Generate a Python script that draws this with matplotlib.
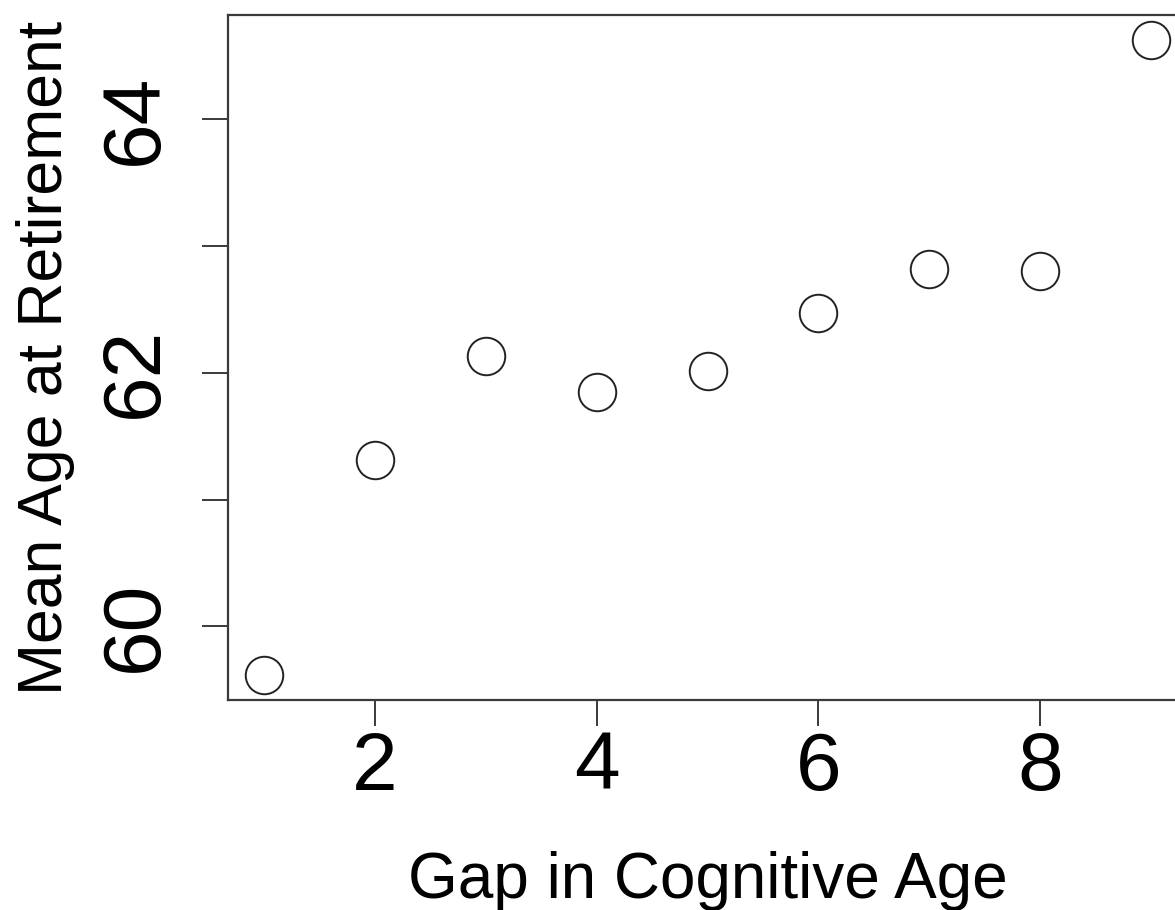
import numpy as np
import matplotlib
matplotlib.use("Agg")
import matplotlib.pyplot as plt

plt.rcParams['font.family'] = ['Liberation Sans', 'DejaVu Sans']

# mean retirement age by gap in cognitive age
gap_years = [1, 2, 3, 4, 5, 6, 7, 8, 9]
mean_retire_age = [59.62, 61.31, 62.13, 61.85, 62.01, 62.47, 62.82, 62.80, 64.62]

x_ticks = [2, 4, 6, 8]
y_ticks = [60, 61, 62, 63, 64]
y_tick_labels = ["60", "", "62", "", "64"]

fig = plt.figure(figsize=(11.75, 9.10), dpi=100)
# plot region runs a little past the right edge of the canvas
ax = fig.add_axes([228 / 1175, 210 / 910, 959 / 1175, 685 / 910])

ax.plot(gap_years, mean_retire_age, linestyle="none", marker="o",
        markersize=27, markerfacecolor="white", markeredgecolor="#222222",
        markeredgewidth=1.4, clip_on=False)

# R-style 4% padding around the data range
def padded(vals, frac=0.04):
    lo, hi = min(vals), max(vals)
    d = (hi - lo) * frac
    return lo - d, hi + d

ax.set_xlim(*padded(gap_years))
ax.set_ylim(*padded(mean_retire_age))

ax.set_xticks(x_ticks)
ax.set_xticklabels([str(t) for t in x_ticks])
ax.set_yticks(y_ticks)
ax.set_yticklabels(y_tick_labels, rotation=90, va="center")

for s in ax.spines.values():
    s.set_color("#3a3a3a")
    s.set_linewidth(1.6)

ax.tick_params(axis="x", length=19, width=1.4, color="#3a3a3a",
               labelsize=59, pad=3)
ax.tick_params(axis="y", length=19, width=1.4, color="#3a3a3a",
               labelsize=59, pad=20)

ax.set_xlabel("Gap in Cognitive Age", fontsize=46)
ax.set_ylabel("Mean Age at Retirement", fontsize=45)
ax.xaxis.set_label_coords(0.5, -0.22)
ax.yaxis.set_label_coords(-0.1595, 0.5)

fig.savefig("out.png", dpi=100)
